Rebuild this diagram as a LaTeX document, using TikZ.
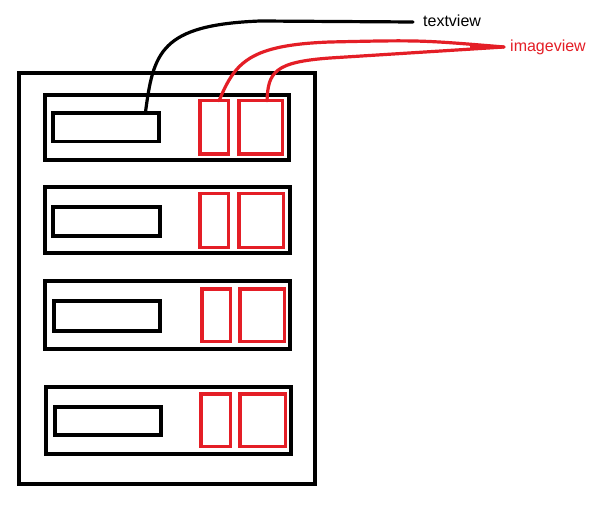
\documentclass[tikz,border=0pt]{standalone}
\usepackage{fontspec}
\setmainfont{Liberation Sans}
\usetikzlibrary{calc}
\definecolor{viewred}{RGB}{228,30,38}
\begin{document}
\begin{tikzpicture}[x=1bp,y=-1bp,
  frame/.style={draw=black,line width=4bp,rectangle,inner sep=0pt,outer sep=0pt},
  tbox/.style={draw=black,line width=3.7bp,rectangle,inner sep=0pt,outer sep=0pt},
  redbox/.style={draw=viewred,line width=3.5bp,rectangle,inner sep=0pt,outer sep=0pt},
  wire/.style={line width=3.2bp,line cap=round},
  lbl/.style={inner xsep=0pt,inner ysep=0pt,anchor=base west,font=\fontsize{16bp}{19bp}\selectfont}]
\useasboundingbox[fill=white] (0,0) rectangle (600,513);
% outer frame
\node[frame,minimum width=296bp,minimum height=411bp] (outer) at (167,278.5) {};
% rows
\node[frame,minimum width=244bp,minimum height=65bp] (row1) at (167,127.5) {};
\node[frame,minimum width=245bp,minimum height=66bp] (row2) at (167.5,220) {};
\node[frame,minimum width=245bp,minimum height=68bp] (row3) at (167.5,315) {};
\node[frame,minimum width=245bp,minimum height=67bp] (row4) at (168.5,420.5) {};
% text boxes
\node[tbox,minimum width=106.3bp,minimum height=28.3bp] (t1) at (106,127.5) {};
\node[tbox,minimum width=107.3bp,minimum height=29.3bp] (t2) at (106.5,221.5) {};
\node[tbox,minimum width=106.3bp,minimum height=30.3bp] (t3) at (107,316) {};
\node[tbox,minimum width=106.3bp,minimum height=28.3bp] (t4) at (108,421) {};
% image boxes
\node[redbox,minimum width=28.5bp,minimum height=53.5bp] (s1) at (214,127.5) {};
\node[redbox,minimum width=43.5bp,minimum height=53.5bp] (b1) at (260.5,127.5) {};
\node[redbox,minimum width=28.5bp,minimum height=53.5bp] (s2) at (214,220.5) {};
\node[redbox,minimum width=44.5bp,minimum height=53.5bp] (b2) at (261,220.5) {};
\node[redbox,minimum width=28.5bp,minimum height=52.5bp] (s3) at (216,315) {};
\node[redbox,minimum width=44.5bp,minimum height=52.5bp] (b3) at (262,315) {};
\node[redbox,minimum width=29.5bp,minimum height=52.5bp] (s4) at (215.5,420) {};
\node[redbox,minimum width=45.5bp,minimum height=52.5bp] (b4) at (262.5,420) {};
% labels
\node[lbl,text=black] (tv) at (423,27) {textview};
\coordinate (tvend) at (413,22);
\node[lbl,text=viewred] (iv) at (510,52) {imageview};
\coordinate (ivend) at (504,47);
% connectors
\draw[wire,black] ($(t1.north west)!0.87!(t1.north east)$)
  .. controls +(8,-61) and (160,25) .. (260,21) -- (tvend);
\draw[wire,viewred] ($(s1.north west)!0.68!(s1.north east)$)
  .. controls +(16,-39) and (250,45) .. (330,42)
  .. controls (420,40) .. (ivend);
\draw[wire,viewred] ($(b1.north west)!0.65!(b1.north east)$)
  .. controls +(1,-29) and (275,62) .. (330,58) -- (ivend);
\fill[viewred] (470,45.5) -- (ivend) -- (470,50) -- cycle;
\end{tikzpicture}
\end{document}
